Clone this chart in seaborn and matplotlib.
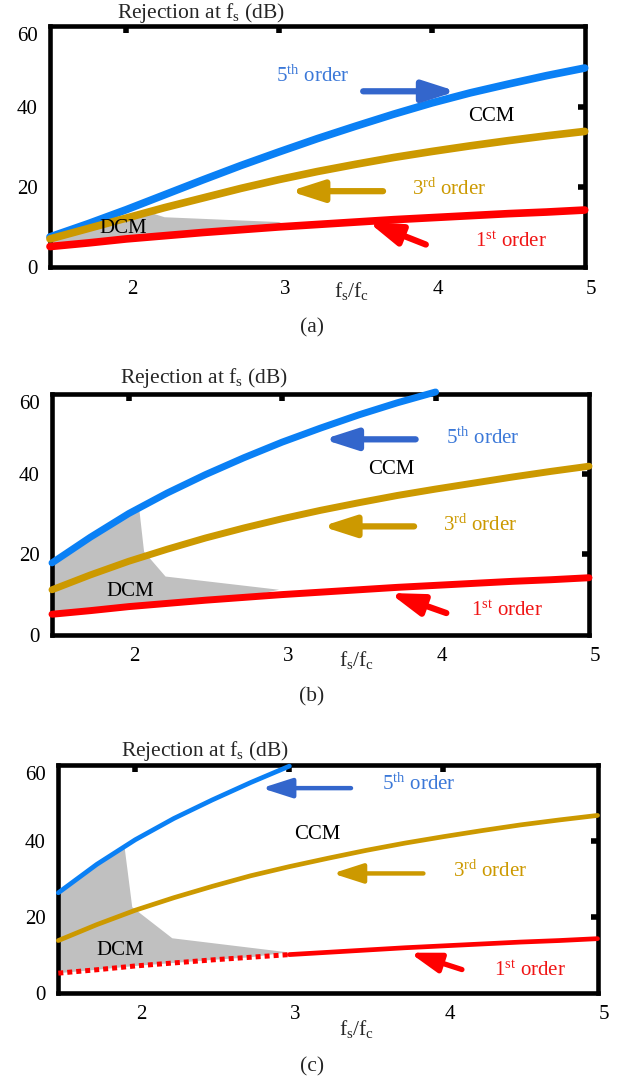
import numpy as np
import pandas as pd
import matplotlib
matplotlib.use("Agg")
import matplotlib.pyplot as plt
import matplotlib.transforms as mtransforms
import seaborn as sns

# ---------------- data ----------------
x_full = [1.5, 1.75, 2.0, 2.25, 2.5, 2.75, 3.0, 3.25, 3.5, 3.75, 4.0, 4.25, 4.5, 4.75, 5.0]
red_1st = [5.1, 6.0, 7.0, 7.8, 8.6, 9.3, 10.0, 10.6, 11.2, 11.8, 12.3, 12.8, 13.3, 13.7, 14.2]

blue_a = [7.5, 10.8, 14.3, 18.0, 21.7, 25.3, 28.7, 32.0, 35.1, 38.1, 40.9, 43.4, 45.6, 47.7, 49.6]
gold_a = [7.0, 9.6, 12.2, 14.8, 17.2, 19.6, 21.8, 23.8, 25.6, 27.3, 28.8, 30.2, 31.5, 32.7, 33.8]

x_blue_b = [1.5, 1.75, 2.0, 2.25, 2.5, 2.75, 3.0, 3.25, 3.5, 3.75, 4.0]
blue_b = [17.9, 24.3, 30.2, 35.3, 39.9, 44.1, 48.0, 51.5, 54.8, 57.8, 60.5]
gold_b = [11.2, 14.9, 18.3, 21.3, 24.1, 26.6, 28.9, 31.0, 32.9, 34.7, 36.3, 37.8, 39.3, 40.7, 42.0]

x_blue_c = [1.5, 1.75, 2.0, 2.25, 2.5, 2.75, 3.0]
blue_c = [26.3, 33.8, 40.3, 45.9, 50.8, 55.4, 59.7]
gold_c = [13.7, 17.9, 21.7, 25.0, 28.0, 30.8, 33.2, 35.4, 37.5, 39.4, 41.1, 42.7, 44.2, 45.5, 46.7]

# DCM region upper boundaries (closed along the 1st-order curve)
dcm_a_x = [1.5, 2.0, 2.15, 2.25, 3.0, 3.05]
dcm_a_y = [7.2, 12.6, 13.6, 12.4, 11.2, 10.2]
dcm_b_x = [1.5, 1.75, 2.07, 2.1, 2.24, 2.98]
dcm_b_y = [17.9, 24.3, 30.9, 20.7, 14.5, 11.2]
dcm_c_x = [1.5, 1.75, 1.93, 1.98, 2.24, 2.99]
dcm_c_y = [26.3, 33.8, 38.4, 22.5, 14.3, 10.6]

x_ticks = [2, 3, 4, 5]
y_ticks = [0, 20, 40, 60]

# ---------------- style ----------------
sns.set_style("white")
plt.rcParams['font.family'] = ['Liberation Serif', 'DejaVu Serif']
plt.rcParams['mathtext.fontset'] = 'custom'
plt.rcParams['mathtext.rm'] = 'Liberation Serif'
plt.rcParams['mathtext.it'] = 'Liberation Serif:italic'
plt.rcParams['mathtext.bf'] = 'Liberation Serif:bold'

BLUE = '#0a80f5'
BLUE_ARROW = '#3366cc'
BLUE_TXT = '#3b78d8'
GOLD = '#cc9900'
RED = '#ff0000'
RED_TXT = '#f01515'
GRAY = '#c0c0c0'

W, H = 622, 1083
fig = plt.figure(figsize=(W / 100, H / 100), dpi=100)


def fx(px):
    return px / W


def fy(py):
    return 1 - py / H


def make_axes(l, t, r, b):
    return fig.add_axes([fx(l), fy(b), fx(r) - fx(l), (b - t) / H])


axes_px = [(50, 26.3, 584.7, 267.0), (52, 394.0, 589.0, 634.7), (58.3, 765.0, 597.5, 992.5)]


def style_axes(ax):
    ax.set_xlim(1.5, 5)
    ax.set_ylim(0, 60)
    ax.set_xticks(x_ticks)
    ax.set_yticks(y_ticks)
    ax.set_xticklabels([str(v) for v in x_ticks])
    ax.set_yticklabels([str(v) for v in y_ticks])
    ax.tick_params(direction='in', length=5, width=4, top=True, right=True,
                   labelsize=15, pad=9, colors='black')
    for s in ax.spines.values():
        s.set_linewidth(3.3)
        s.set_color('black')
        s.set_visible(True)
    ax.set_xlabel('')
    ax.set_ylabel('')
    if ax.get_legend() is not None:
        ax.get_legend().remove()
    lab = ax.get_yticklabels()[-1]
    lab.set_transform(lab.get_transform() +
                      mtransforms.ScaledTranslation(0, -0.08, fig.dpi_scale_trans))
    for lab in ax.get_xticklabels():
        lab.set_transform(lab.get_transform() +
                          mtransforms.ScaledTranslation(0.06, 0, fig.dpi_scale_trans))
    # tick marks that would sit on the box corners are not drawn
    xt = ax.xaxis.get_major_ticks()
    yt = ax.yaxis.get_major_ticks()
    for t in [xt[-1], yt[0], yt[-1]]:
        t.tick1line.set_visible(False)
        t.tick2line.set_visible(False)


def dcm_fill(ax, xs, ys):
    lower_x = [x for x in x_full if x <= xs[-1]]
    lower_y = [y for x, y in zip(x_full, red_1st) if x <= xs[-1]]
    px = list(xs) + lower_x[::-1]
    py = list(ys) + lower_y[::-1]
    ax.fill(px, py, color=GRAY, lw=0, zorder=1)


def arrow(ax, tail, head, color, lw, ms):
    ax.annotate('', xy=head, xytext=tail,
                arrowprops=dict(arrowstyle='-|>,head_length=1.4,head_width=0.45',
                                lw=lw, color=color, mutation_scale=ms,
                                shrinkA=0, shrinkB=0, capstyle='round'),
                zorder=5)


TXT = 15
LAB = 15.5

# ---------------- panel (a) ----------------
ax = make_axes(*axes_px[0])
dcm_fill(ax, dcm_a_x, dcm_a_y)
sns.lineplot(x=x_full, y=red_1st, ax=ax, color=RED, lw=5.5, solid_capstyle='round', zorder=3)
sns.lineplot(x=x_full, y=blue_a, ax=ax, color=BLUE, lw=5.5, solid_capstyle='round', zorder=3)
sns.lineplot(x=x_full, y=gold_a, ax=ax, color=GOLD, lw=5.5, solid_capstyle='round', zorder=3)
style_axes(ax)
for l in ax.lines:
    l.set_clip_on(False)
arrow(ax, (3.55, 43.8), (4.16, 43.8), BLUE_ARROW, 4.5, 14)
arrow(ax, (3.68, 18.9), (3.07, 18.9), GOLD, 4.5, 14)
arrow(ax, (3.96, 5.6), (3.58, 11.3), RED, 4.5, 14)
ax.text(2.98, 47.6, '5$^{\\mathrm{th}}$ order', color=BLUE_TXT, fontsize=TXT, ha='left', va='center')
ax.text(3.87, 19.4, '3$^{\\mathrm{rd}}$ order', color=GOLD, fontsize=TXT, ha='left', va='center')
ax.text(4.28, 6.2, '1$^{\\mathrm{st}}$ order', color=RED_TXT, fontsize=TXT, ha='left', va='center')
ax.text(4.39, 37.4, 'CCM', color='black', fontsize=TXT, ha='center', va='center', zorder=6)
ax.text(1.98, 9.7, 'DCM', color='black', fontsize=TXT, ha='center', va='center', zorder=6)
fig.text(fx(201), fy(13), 'Rejection at f$_{\\mathrm{s}}$ (dB)', fontsize=LAB, ha='center', va='center')
fig.text(fx(352), fy(291), 'f$_{\\mathrm{s}}$/f$_{\\mathrm{c}}$', fontsize=LAB, ha='center', va='center')
fig.text(fx(312), fy(328), '(a)', fontsize=LAB, ha='center', va='center')

# ---------------- panel (b) ----------------
ax = make_axes(*axes_px[1])
dcm_fill(ax, dcm_b_x, dcm_b_y)
sns.lineplot(x=x_full, y=red_1st, ax=ax, color=RED, lw=5, solid_capstyle='round', zorder=3)
sns.lineplot(x=x_full, y=gold_b, ax=ax, color=GOLD, lw=5, solid_capstyle='round', zorder=3)
sns.lineplot(x=x_blue_b, y=blue_b, ax=ax, color=BLUE, lw=5, solid_capstyle='round', zorder=3)
style_axes(ax)
for l in ax.lines:
    l.set_clip_on(False)
arrow(ax, (3.87, 48.7), (3.27, 48.7), BLUE_ARROW, 4.5, 14)
arrow(ax, (3.86, 27.0), (3.26, 27.0), GOLD, 4.5, 14)
arrow(ax, (4.07, 5.4), (3.70, 10.4), RED, 4.5, 14)
ax.text(4.07, 48.9, '5$^{\\mathrm{th}}$ order', color=BLUE_TXT, fontsize=TXT, ha='left', va='center')
ax.text(4.05, 27.4, '3$^{\\mathrm{rd}}$ order', color=GOLD, fontsize=TXT, ha='left', va='center')
ax.text(4.23, 6.0, '1$^{\\mathrm{st}}$ order', color=RED_TXT, fontsize=TXT, ha='left', va='center')
ax.text(3.71, 41.2, 'CCM', color='black', fontsize=TXT, ha='center', va='center', zorder=6)
ax.text(2.01, 10.75, 'DCM', color='black', fontsize=TXT, ha='center', va='center', zorder=6)
fig.text(fx(204), fy(378), 'Rejection at f$_{\\mathrm{s}}$ (dB)', fontsize=LAB, ha='center', va='center')
fig.text(fx(357), fy(660), 'f$_{\\mathrm{s}}$/f$_{\\mathrm{c}}$', fontsize=LAB, ha='center', va='center')
fig.text(fx(312), fy(697), '(b)', fontsize=LAB, ha='center', va='center')

# ---------------- panel (c) ----------------
ax = make_axes(*axes_px[2])
dcm_fill(ax, dcm_c_x, dcm_c_y)
x_red_dot = [x for x in x_full if x <= 3.0]
y_red_dot = [y for x, y in zip(x_full, red_1st) if x <= 3.0]
x_red_sol = [x for x in x_full if x >= 3.0]
y_red_sol = [y for x, y in zip(x_full, red_1st) if x >= 3.0]
sns.lineplot(x=x_red_dot, y=y_red_dot, ax=ax, color=RED, lw=3.6, linestyle=(0, (1, 0.8)),
             dash_capstyle='butt', zorder=3)
sns.lineplot(x=x_red_sol, y=y_red_sol, ax=ax, color=RED, lw=3.4, solid_capstyle='round', zorder=3)
sns.lineplot(x=x_full, y=gold_c, ax=ax, color=GOLD, lw=3.4, solid_capstyle='round', zorder=3)
sns.lineplot(x=x_blue_c, y=blue_c, ax=ax, color=BLUE, lw=3.4, solid_capstyle='round', zorder=3)
style_axes(ax)
for l in ax.lines:
    l.set_clip_on(False)
arrow(ax, (3.40, 53.9), (2.82, 53.9), BLUE_ARROW, 3.2, 13)
arrow(ax, (3.87, 31.4), (3.28, 31.4), GOLD, 3.2, 13)
arrow(ax, (4.12, 6.05), (3.78, 10.5), RED, 3.8, 13)
ax.text(3.60, 54.9, '5$^{\\mathrm{th}}$ order', color=BLUE_TXT, fontsize=TXT, ha='left', va='center')
ax.text(4.06, 32.1, '3$^{\\mathrm{rd}}$ order', color=GOLD, fontsize=TXT, ha='left', va='center')
ax.text(4.33, 5.7, '1$^{\\mathrm{st}}$ order', color=RED_TXT, fontsize=TXT, ha='left', va='center')
ax.text(3.18, 41.6, 'CCM', color='black', fontsize=TXT, ha='center', va='center', zorder=6)
ax.text(1.90, 11.2, 'DCM', color='black', fontsize=TXT, ha='center', va='center', zorder=6)
fig.text(fx(205), fy(751), 'Rejection at f$_{\\mathrm{s}}$ (dB)', fontsize=LAB, ha='center', va='center')
fig.text(fx(357), fy(1029), 'f$_{\\mathrm{s}}$/f$_{\\mathrm{c}}$', fontsize=LAB, ha='center', va='center')
fig.text(fx(312), fy(1067), '(c)', fontsize=LAB, ha='center', va='center')

fig.savefig('out.png', dpi=100, facecolor='white')
